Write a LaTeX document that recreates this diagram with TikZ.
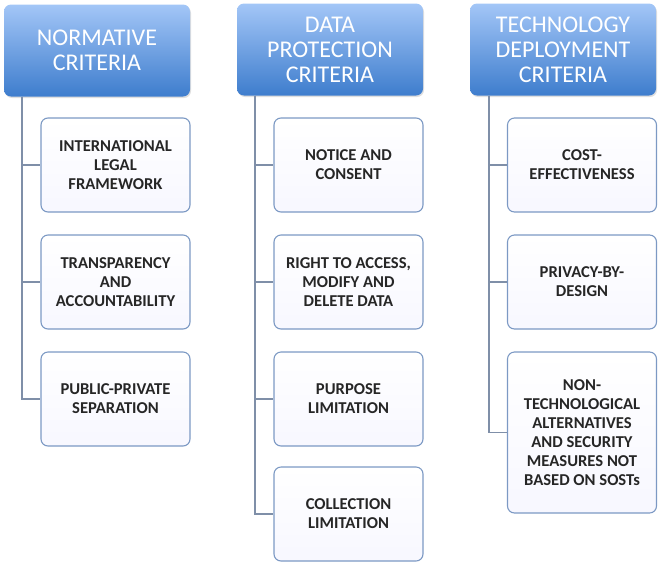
\documentclass[tikz,border=0pt]{standalone}
\usepackage{fontspec}
\setmainfont{Carlito}
\usetikzlibrary{shadows}
\definecolor{headtop}{HTML}{A3C6F7}
\definecolor{headbot}{HTML}{3E7DCD}
\definecolor{boxline}{HTML}{7C99C4}
\definecolor{trunk}{HTML}{7F8FA8}

\begin{document}
\begin{tikzpicture}[x=1pt,y=-1pt,
  head/.style={rounded corners=7pt, top color=headtop, bottom color=headbot, draw=none,
    drop shadow={opacity=0.25, shadow xshift=1pt, shadow yshift=-1.5pt},
    minimum width=186pt, minimum height=92pt, inner sep=0pt, align=center, text=white,
    font=\fontsize{24}{25}\selectfont},
  item/.style={rounded corners=7pt, draw=boxline, line width=1.1pt, top color=white, bottom color=blue!3,
    minimum width=149pt, minimum height=94pt, inner sep=0pt, align=center, text=black!85,
    font=\fontsize{16.6}{19}\selectfont\bfseries},
  link/.style={draw=trunk, line width=1.6pt}]
\useasboundingbox (0,0) rectangle (658,563);
\node [head] (norm) at (97,50.5) {NORMATIVE\\CRITERIA};
\node [head] (prot) at (330,49.5) {DATA\\PROTECTION\\CRITERIA};
\node [head] (tech) at (563,49.5) {TECHNOLOGY\\DEPLOYMENT\\CRITERIA};
\node [item] (legal) at (115.5,165) {INTERNATIONAL\\LEGAL\\FRAMEWORK};
\node [item] (transp) at (115.5,282) {TRANSPARENCY\\AND\\ACCOUNTABILITY};
\node [item] (separ) at (115.5,399) {PUBLIC-PRIVATE\\SEPARATION};
\node [item] (notice) at (348.5,165) {NOTICE AND\\CONSENT};
\node [item] (access) at (348.5,282) {RIGHT TO ACCESS,\\MODIFY AND\\DELETE DATA};
\node [item] (purpose) at (348.5,399) {PURPOSE\\LIMITATION};
\node [item] (collect) at (348.5,514) {COLLECTION\\LIMITATION};
\node [item] (cost) at (582,165) {COST-\\EFFECTIVENESS};
\node [item] (design) at (582,282) {PRIVACY-BY-\\DESIGN};
\node [item, minimum height=161pt] (alter) at (582,432.5) {NON-\\TECHNOLOGICAL\\ALTERNATIVES\\AND SECURITY\\MEASURES NOT\\BASED ON SOSTs};
\foreach \c in {legal,transp,separ}
  \draw [link] ([xshift=18pt]norm.south west) |- (\c.west);
\foreach \c in {notice,access,purpose,collect}
  \draw [link] ([xshift=18pt]prot.south west) |- (\c.west);
\foreach \c in {cost,design,alter}
  \draw [link] ([xshift=19pt]tech.south west) |- (\c.west);
\end{tikzpicture}
\end{document}
